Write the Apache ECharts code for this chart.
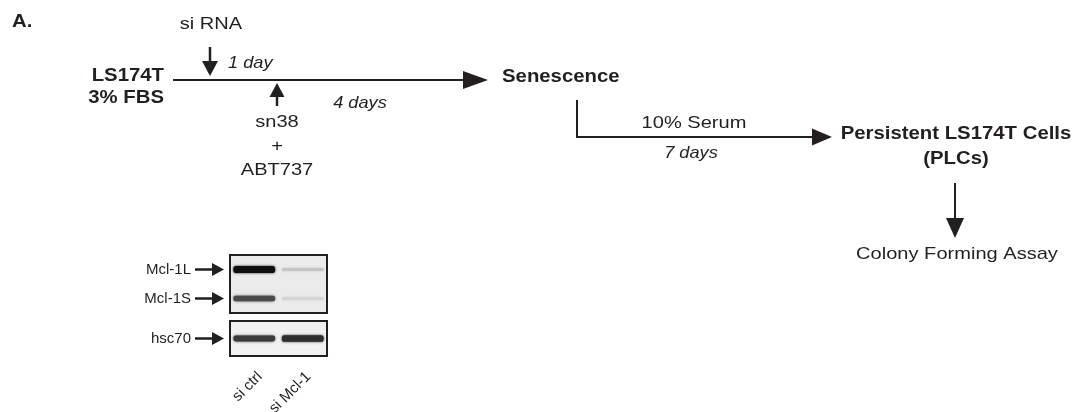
<!DOCTYPE html>
<html>
<head>
<meta charset="utf-8">
<script src="https://cdn.jsdelivr.net/npm/echarts@6/dist/echarts.min.js"></script>
<style>html,body{margin:0;padding:0;background:#fff}#c{width:1077px;height:412px}</style>
</head>
<body>
<div id="c"></div>
<script>
// ---------------- data ----------------
const panelLabel = 'A.';
const stages = ['LS174T\n3% FBS', 'Senescence', 'Persistent LS174T Cells\n(PLCs)', 'Colony Forming Assay'];
const treatments = ['si RNA', 'sn38\n+\nABT737', '10% Serum'];
const durations = ['1 day', '4 days', '7 days'];
const blotLanes = ['si ctrl', 'si Mcl-1'];
const blotProteins = ['Mcl-1L', 'Mcl-1S'];
const loadingControl = ['hsc70'];
// relative band intensity, rows = proteins, cols = lanes
const mcl1Intensity = [[1.0, 0.16], [0.72, 0.09]];
const hsc70Intensity = [[0.8, 0.86]];

// ---------------- layout & style ----------------
const ink = '#231f20';
const FAM = '"Liberation Sans", Arial, Helvetica, sans-serif';
const styles = {
  bold:    { font: 'bold 18px ' + FAM, scale: 1.13, lh: 22 },
  regular: { font: '17px ' + FAM, scale: 1.18, lh: 24 },
  italic:  { font: 'italic 17px ' + FAM, scale: 1.07, lh: 20 }
};
const textLayout = [
  { text: panelLabel,    pos: [12, 22],  align: 'left',  style: 'bold' },
  { text: treatments[0], pos: [211, 24], align: 'center', style: 'regular' },
  { text: durations[0],  pos: [228, 63], align: 'left',  style: 'italic' },
  { text: stages[0],     pos: [164, 87], align: 'right', style: 'bold' },
  { text: treatments[1], pos: [277, 146], align: 'center', style: 'regular' },
  { text: durations[1],  pos: [360, 103], align: 'center', style: 'italic' },
  { text: stages[1],     pos: [502, 77], align: 'left',  style: 'bold' },
  { text: treatments[2], pos: [694, 123], align: 'center', style: 'regular' },
  { text: durations[2],  pos: [691, 153], align: 'center', style: 'italic' },
  { text: stages[2],     pos: [956, 147], align: 'center', style: 'bold', lh: 25 },
  { text: stages[3],     pos: [957, 254], align: 'center', style: 'regular' }
];
const arrows = [
  { path: [[173, 80], [488, 80]], head: [25, 9], w: 2 },
  { path: [[210, 47], [210, 76]], head: [15, 8], w: 2.5 },
  { path: [[277, 106], [277, 83]], head: [14, 7.5], w: 2.5 },
  { path: [[577, 100], [577, 137], [832, 137]], head: [20, 8.5], w: 2 },
  { path: [[955, 183], [955, 238]], head: [20, 9], w: 2 }
];

function arrowShape(pts, head, w) {
  const n = pts.length;
  const tip = pts[n - 1], prev = pts[n - 2];
  const dx = tip[0] - prev[0], dy = tip[1] - prev[1];
  const L = Math.hypot(dx, dy);
  const ux = dx / L, uy = dy / L, px = -uy, py = ux;
  const bx = tip[0] - ux * head[0], by = tip[1] - uy * head[0];
  const shaft = pts.slice(0, n - 1).concat([[bx + ux, by + uy]]);
  return [
    { type: 'polyline', shape: { points: shaft }, style: { stroke: ink, lineWidth: w, fill: null } },
    { type: 'polygon', shape: { points: [tip, [bx + px * head[1], by + py * head[1]], [bx - px * head[1], by - py * head[1]]] },
      style: { fill: ink } }
  ];
}

function textItem(params, api) {
  const d = textLayout[params.dataIndex];
  const st = styles[d.style];
  const p = api.coord([api.value(0), api.value(1)]);
  return {
    type: 'text', x: p[0], y: p[1], scaleX: st.scale,
    style: { text: d.text, x: 0, y: 0, align: d.align, verticalAlign: 'middle',
             font: st.font, fill: ink, lineHeight: d.lh || st.lh }
  };
}

function arrowItem(params, api) {
  const a = arrows[params.dataIndex];
  const pts = a.path.map(q => api.coord(q));
  return { type: 'group', children: arrowShape(pts, a.head, a.w) };
}

function bandItem(params, api) {
  const lane = api.value(0), row = api.value(1), I = api.value(2);
  const c = api.coord([lane, row]);
  const w = api.size([1, 0])[0] * 0.86;
  const h = 2.5 + 4.5 * I;
  const g = Math.round(232 - I * 218);
  const col = 'rgb(' + g + ',' + g + ',' + g + ')';
  const children = [{
    type: 'rect', shape: { x: c[0] - w / 2, y: c[1] - h / 2, width: w, height: h, r: h / 2.5 },
    style: { fill: col, shadowBlur: 2.5, shadowColor: col }
  }];
  if (lane === 0) {
    const gx = params.coordSys.x;
    children.push.apply(children, arrowShape([[gx - 35, c[1]], [gx - 6, c[1]]], [12, 6.5], 2.5));
  }
  return { type: 'group', children: children };
}

const mclData = [];
mcl1Intensity.forEach((row, r) => row.forEach((v, l) => mclData.push([l, r, v])));
const hscData = [];
hsc70Intensity.forEach((row, r) => row.forEach((v, l) => hscData.push([l, r, v])));

const blotLabel = { margin: 39, fontSize: 15, color: ink, fontFamily: 'Liberation Sans' };
const chart = echarts.init(document.getElementById('c'), null, { renderer: 'canvas' });
chart.setOption({
  animation: false,
  backgroundColor: '#ffffff',
  grid: [
    { left: 0, top: 0, right: 0, bottom: 0, show: false, outerBoundsMode: 'none', containLabel: false },
    { left: 230, top: 255, width: 97, height: 58, show: true, backgroundColor: '#ebebeb', borderColor: ink, borderWidth: 2,
      outerBoundsMode: 'none', containLabel: false },
    { left: 230, top: 321, width: 97, height: 35, show: true, backgroundColor: '#f1f1f1', borderColor: ink, borderWidth: 2,
      outerBoundsMode: 'none', containLabel: false }
  ],
  xAxis: [
    { type: 'value', min: 0, max: 1077, gridIndex: 0, show: false },
    { type: 'category', data: blotLanes, gridIndex: 1, show: false },
    { type: 'category', data: blotLanes, gridIndex: 2,
      axisLine: { show: false }, axisTick: { show: false }, splitLine: { show: false },
      axisLabel: { rotate: 45, margin: 24, fontSize: 15, color: ink, fontFamily: 'Liberation Sans',
                   padding: [0, -8, 0, 0] } }
  ],
  yAxis: [
    { type: 'value', min: 0, max: 412, inverse: true, gridIndex: 0, show: false },
    { type: 'category', data: blotProteins, inverse: true, gridIndex: 1,
      axisLine: { show: false }, axisTick: { show: false }, splitLine: { show: false }, axisLabel: blotLabel },
    { type: 'category', data: loadingControl, inverse: true, gridIndex: 2,
      axisLine: { show: false }, axisTick: { show: false }, splitLine: { show: false }, axisLabel: blotLabel }
  ],
  series: [
    { type: 'custom', name: 'arrows', xAxisIndex: 0, yAxisIndex: 0, renderItem: arrowItem,
      data: arrows.map(a => a.path[0]), silent: true },
    { type: 'custom', name: 'labels', xAxisIndex: 0, yAxisIndex: 0, renderItem: textItem,
      data: textLayout.map(t => t.pos), silent: true },
    { type: 'custom', name: 'Mcl-1', xAxisIndex: 1, yAxisIndex: 1, renderItem: bandItem, data: mclData, silent: true },
    { type: 'custom', name: 'hsc70', xAxisIndex: 2, yAxisIndex: 2, renderItem: bandItem, data: hscData, silent: true }
  ]
});
</script>
</body>
</html>
